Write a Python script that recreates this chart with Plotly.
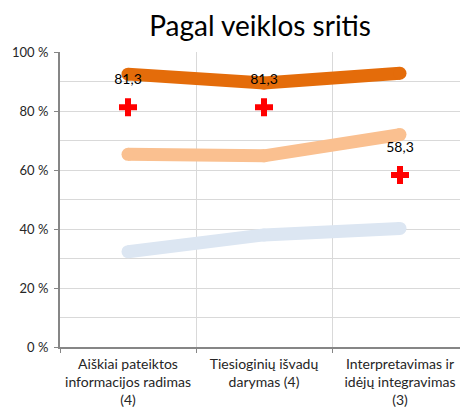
import plotly.graph_objects as go

categories = [
    "Aiškiai pateiktos<br>informacijos radimas<br>(4)",
    "Tiesioginių išvadų<br>darymas (4)",
    "Interpretavimas ir<br>idėjų integravimas<br>(3)",
]
dark_orange = [92.5, 89.5, 92.8]
light_orange = [65.3, 64.8, 72.0]
light_blue = [32.3, 38.0, 40.2]
red_points = [81.3, 81.3, 58.3]
red_labels = ["81,3", "81,3", "58,3"]

FONT = "Lato, 'Open Sans', sans-serif"

fig = go.Figure()

for vals, col in [(light_blue, "#DCE6F2"), (light_orange, "#FAC090"), (dark_orange, "#E46C0A")]:
    fig.add_trace(go.Scatter(
        x=categories, y=vals, mode="lines+markers",
        line=dict(color=col, width=13),
        marker=dict(color=col, size=13, line=dict(width=0)),
    ))

fig.add_trace(go.Scatter(
    x=categories, y=red_points, mode="markers",
    marker=dict(symbol="cross", color="#FF0000", size=15, line=dict(width=0)),
))

# value labels, pushed up by an invisible marker
fig.add_trace(go.Scatter(
    x=categories, y=red_points, mode="markers+text",
    text=red_labels, textposition="top center",
    textfont=dict(size=14, color="#000000", family=FONT),
    marker=dict(size=30, opacity=0), hoverinfo="skip",
))

# page body adds an 8px offset, so the figure is 8px smaller
fig.update_layout(
    width=460, height=404,
    margin=dict(l=52, r=0, t=44, b=65),
    paper_bgcolor="white", plot_bgcolor="white",
    showlegend=False,
    font=dict(family=FONT, color="#262626"),
    title=dict(text="Pagal veiklos sritis", x=0.548, xanchor="center",
               y=0.955, yanchor="middle",
               font=dict(size=28, color="#000000", family=FONT)),
)
fig.update_xaxes(
    type="category", range=[-0.5, 2.5],
    showgrid=True, gridcolor="#D9D9D9", gridwidth=1,
    tickson="boundaries", ticks="outside", ticklen=4, tickcolor="#868686",
    showline=True, linecolor="#868686", linewidth=2,
    ticklabelstandoff=3,
    tickfont=dict(size=14, color="#262626"),
)
fig.update_yaxes(
    range=[0, 100], dtick=20, ticksuffix=" %",
    showgrid=True, gridcolor="#D9D9D9", gridwidth=1,
    minor=dict(dtick=10, showgrid=True, gridcolor="#D9D9D9", gridwidth=1),
    ticks="outside", ticklen=4, tickcolor="#868686",
    showline=True, linecolor="#868686", linewidth=2,
    zeroline=False, ticklabelstandoff=3,
    tickfont=dict(size=13, color="#262626"),
)

fig.write_html("out.html")
